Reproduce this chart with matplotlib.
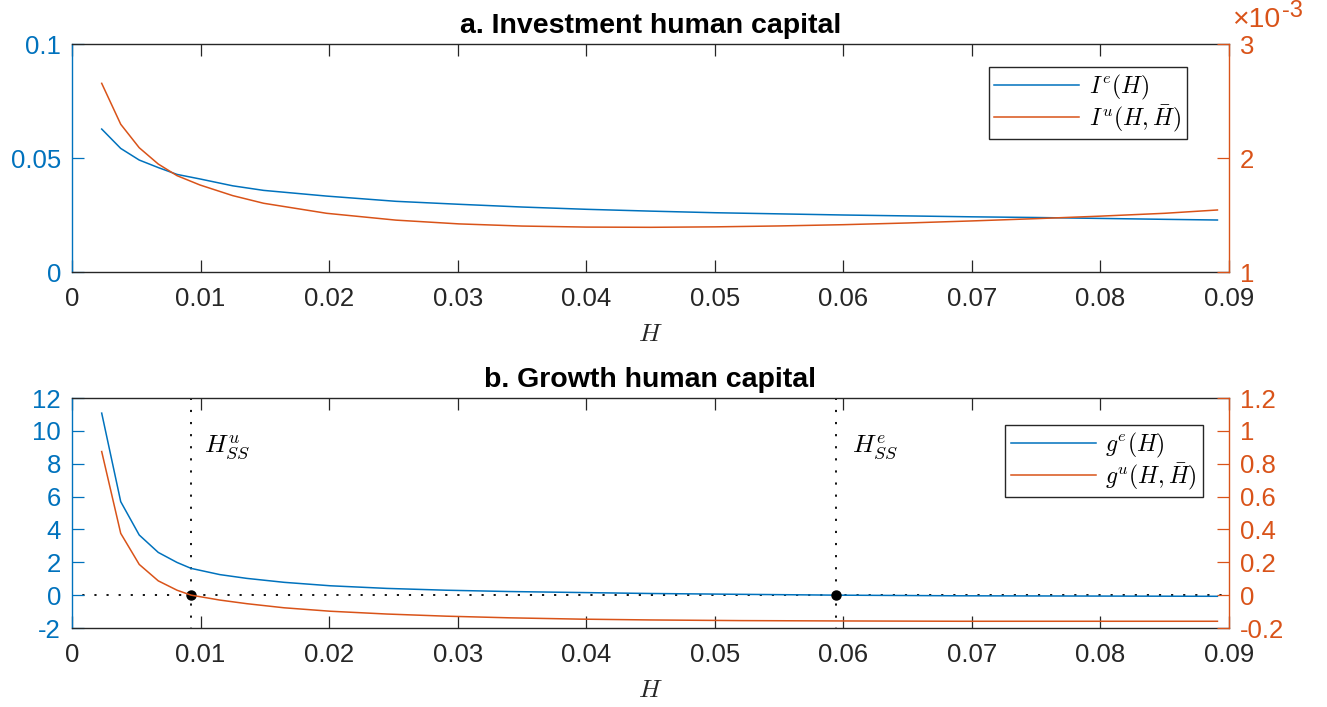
import numpy as np
import matplotlib
matplotlib.use('Agg')
import matplotlib.pyplot as plt

plt.rcParams['font.family'] = ['Liberation Sans', 'DejaVu Sans']
plt.rcParams['mathtext.fontset'] = 'cm'

BLUE = '#0072BD'
ORANGE = '#D95319'
GRAY = '#262626'

# ---- panel a data ----
h_top = [0.00231, 0.00379, 0.00523, 0.00671, 0.00817, 0.00996, 0.0125, 0.0149,
         0.0198, 0.0252, 0.0301, 0.035, 0.040, 0.045, 0.050, 0.055, 0.060,
         0.065, 0.070, 0.075, 0.080, 0.085, 0.0891]
ie_top = [0.0627, 0.0542, 0.0491, 0.0458, 0.0428, 0.0408, 0.0378, 0.0358,
          0.0333, 0.0310, 0.0297, 0.0285, 0.0275, 0.0267, 0.0260, 0.0255, 0.0250,
          0.0246, 0.0242, 0.0239, 0.0235, 0.0231, 0.0228]
iu_top_e3 = [2.655, 2.296, 2.09, 1.947, 1.845, 1.763, 1.67, 1.603,
             1.515, 1.455, 1.422, 1.403, 1.394, 1.392, 1.396, 1.404, 1.415,
             1.430, 1.448, 1.468, 1.490, 1.515, 1.544]

# ---- panel b data ----
h_bot = [0.00231, 0.00379, 0.00523, 0.00671, 0.00817, 0.00926, 0.0115, 0.0136,
         0.0165, 0.0201, 0.0245, 0.0291, 0.0340, 0.0395, 0.045, 0.0520, 0.0594,
         0.069, 0.079, 0.0891]
ge_bot = [11.08, 5.69, 3.66, 2.60, 1.99, 1.63, 1.25, 1.02,
          0.78, 0.57, 0.41, 0.30, 0.22, 0.16, 0.10, 0.05, 0.0,
          -0.04, -0.055, -0.07]
gu_bot = [0.874, 0.376, 0.187, 0.087, 0.03, 0.0, -0.03, -0.052,
          -0.077, -0.098, -0.115, -0.128, -0.138, -0.146, -0.151, -0.155, -0.157,
          -0.159, -0.159, -0.159]
hss_u = 0.00926
hss_e = 0.0594

xticks = [0, 0.01, 0.02, 0.03, 0.04, 0.05, 0.06, 0.07, 0.08, 0.09]
xticklabels = ['0', '0.01', '0.02', '0.03', '0.04', '0.05', '0.06', '0.07', '0.08', '0.09']

FS = 18.5
W, H = 1327, 707
fig = plt.figure(figsize=(W / 100, H / 100), dpi=100)

DOT = (1.0, (1.2, 5.5))


def style(ax, axr):
    ax.spines['right'].set_visible(False)
    axr.spines['left'].set_visible(False)
    axr.spines['top'].set_visible(False)
    axr.spines['bottom'].set_visible(False)
    for s in ['top', 'bottom']:
        ax.spines[s].set_color(GRAY)
        ax.spines[s].set_linewidth(1.0)
    ax.spines['left'].set_color(BLUE)
    ax.spines['left'].set_linewidth(1.0)
    axr.spines['right'].set_color(ORANGE)
    axr.spines['right'].set_linewidth(1.0)
    ax.tick_params(axis='x', direction='in', top=True, bottom=True, length=8.6,
                   width=0.9, colors=GRAY, labelsize=FS, pad=11)
    ax.tick_params(axis='y', direction='in', left=True, right=False, length=8.6,
                   width=0.9, colors=BLUE, labelsize=FS, pad=8)
    axr.tick_params(axis='y', direction='in', left=False, right=True, length=8.6,
                    width=0.9, colors=ORANGE, labelsize=FS, pad=8)
    ax.set_xlim(0, 0.09)
    ax.set_xticks(xticks)
    ax.set_xticklabels(xticklabels)
    ax.set_xlabel('$H$', fontsize=FS, color=GRAY, labelpad=8)


def make_legend(axr, handles, labels, anchor):
    leg = axr.legend(handles, labels, loc='upper right', bbox_to_anchor=anchor,
                     fontsize=17, frameon=True, fancybox=False, edgecolor=GRAY,
                     framealpha=1, handlelength=3.6, handletextpad=0.4,
                     borderpad=0.25, labelspacing=0.03, borderaxespad=0)
    leg.get_frame().set_linewidth(1.0)
    return leg


# ---------- panel a ----------
ax1 = fig.add_axes([72 / W, 1 - 272 / H, 1157 / W, 228 / H])
ax1r = ax1.twinx()
l1, = ax1.plot(h_top, ie_top, color=BLUE, lw=1.1)
l2, = ax1r.plot(h_top, iu_top_e3, color=ORANGE, lw=1.1)
ax1.set_ylim(0, 0.1)
ax1.set_yticks([0, 0.05, 0.1])
ax1.set_yticklabels(['0', '0.05', '0.1'])
ax1r.set_ylim(1, 3)
ax1r.set_yticks([1, 2, 3])
ax1r.set_yticklabels(['1', '2', '3'])
style(ax1, ax1r)
ax1.set_title('a. Investment human capital', fontsize=20.5, fontweight='bold', pad=8)
make_legend(ax1r, [l1, l2], [r'$I^e(H)$', r'$I^u(H,\bar{H})$'], (0.9637, 0.899))
fig.text(1232 / W, 1 - 27 / H, '\u00d710', color=ORANGE, fontsize=20.5, ha='left', va='baseline')
fig.text(1282 / W, 1 - 17 / H, '-3', color=ORANGE, fontsize=17, ha='left', va='baseline')

# ---------- panel b ----------
ax2 = fig.add_axes([72 / W, 1 - 628 / H, 1157 / W, 230 / H])
ax2r = ax2.twinx()
ax2.axhline(0, color='black', lw=1.3, ls=DOT, zorder=1)
ax2.axvline(hss_u, color='black', lw=1.3, ls=DOT, zorder=1)
ax2.axvline(hss_e, color='black', lw=1.3, ls=DOT, zorder=1)
m1, = ax2.plot(h_bot, ge_bot, color=BLUE, lw=1.1, zorder=2)
m2, = ax2r.plot(h_bot, gu_bot, color=ORANGE, lw=1.1, zorder=2)
ax2.plot([hss_u, hss_e], [0, 0], 'o', color='black', ms=6.5, zorder=5)
ax2.set_ylim(-2, 12)
ax2.set_yticks([-2, 0, 2, 4, 6, 8, 10, 12])
ax2.set_yticklabels(['-2', '0', '2', '4', '6', '8', '10', '12'])
ax2r.set_ylim(-0.2, 1.2)
ax2r.set_yticks([-0.2, 0, 0.2, 0.4, 0.6, 0.8, 1.0, 1.2])
ax2r.set_yticklabels(['-0.2', '0', '0.2', '0.4', '0.6', '0.8', '1', '1.2'])
style(ax2, ax2r)
ax2.set_title('b. Growth human capital', fontsize=20.5, fontweight='bold', pad=8)
ax2.text(0.0103, 9.0, r'$H^u_{SS}$', fontsize=18.5, ha='left', va='center')
ax2.text(0.0607, 9.0, r'$H^e_{SS}$', fontsize=18.5, ha='left', va='center')
make_legend(ax2r, [m1, m2], [r'$g^e(H)$', r'$g^u(H,\bar{H})$'], (0.9775, 0.8826))

fig.savefig('out.png', dpi=100)
